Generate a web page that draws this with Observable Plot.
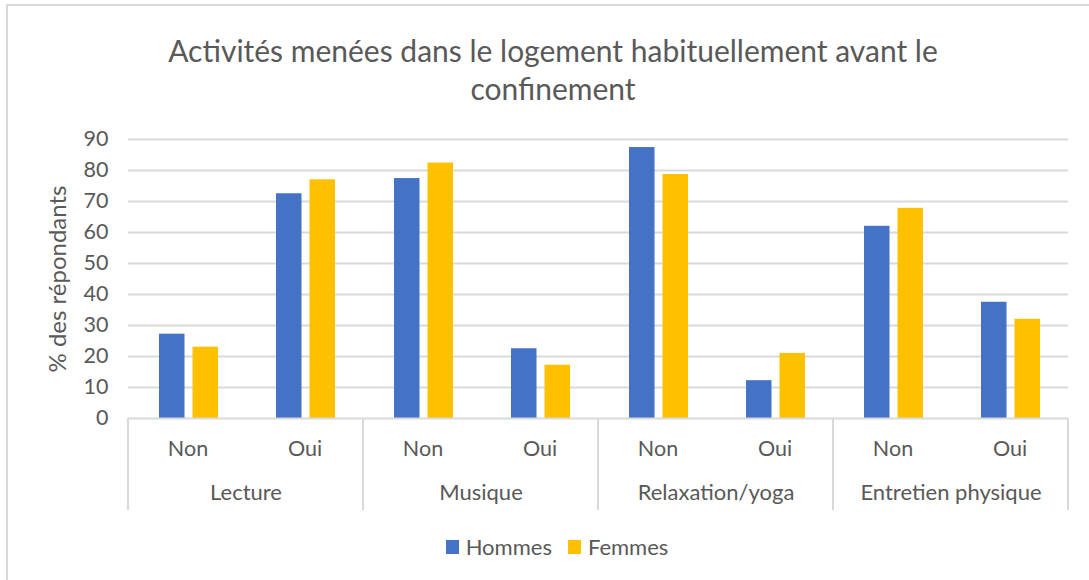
<!DOCTYPE html>
<html>
<head>
<meta charset="utf-8">
<script src="https://cdn.jsdelivr.net/npm/d3@7"></script>
<script src="https://cdn.jsdelivr.net/npm/@observablehq/plot@0.6"></script>
<style>
  body { margin: 0; background: #fff; }
  #wrap { position: relative; width: 1089px; height: 580px; overflow: hidden; font-family: Lato, "Open Sans", sans-serif; color: #595959; }
  #border { position: absolute; left: 6px; top: 4px; width: 1200px; height: 700px; border-left: 2px solid #d9d9d9; border-top: 2px solid #d9d9d9; }
  #title { position: absolute; top: 31px; left: 0; width: 1106px; text-align: center; font-size: 30px; line-height: 38px; }
  #chart { position: absolute; top: 120px; left: 0; }
  #legend { position: absolute; top: 533px; left: 0; width: 1114px; text-align: center; font-size: 22px; line-height: 26px; }
  #legend .item { display: inline-flex; align-items: center; margin: 0 8px; }
  #legend .sw { display: inline-block; width: 13px; height: 14px; margin-right: 7px; }
</style>
</head>
<body>
<div id="wrap">
  <div id="border"></div>
  <div id="title">Activités menées dans le logement habituellement avant le<br>confinement</div>
  <div id="chart"></div>
  <div id="legend"></div>
</div>
<script>
const activities = ["Lecture", "Musique", "Relaxation/yoga", "Entretien physique"];
const answers = ["Non", "Oui"];
const sexes = ["Hommes", "Femmes"];
const colors = ["#4472C4", "#FFC000"];
// values in order: activity x answer (Non, Oui)
const hommes = [27.2, 72.5, 77.4, 22.5, 87.4, 12.2, 62.0, 37.5];
const femmes = [23.0, 77.0, 82.4, 17.2, 78.7, 21.0, 67.8, 32.0];
const yTicks = [0, 10, 20, 30, 40, 50, 60, 70, 80, 90];
const yLabel = "% des répondants";

const rows = [];
activities.forEach((a, i) => {
  answers.forEach((r, j) => {
    rows.push({activity: a, answer: r, sex: sexes[0], value: hommes[i * 2 + j]});
    rows.push({activity: a, answer: r, sex: sexes[1], value: femmes[i * 2 + j]});
  });
});

const plot = Plot.plot({
  width: 1089,
  height: 400,
  marginTop: 19,
  marginBottom: 102,
  marginLeft: 128,
  marginRight: 21,
  style: {fontFamily: "Lato, 'Open Sans', sans-serif", fontSize: "21.5px", color: "#595959", background: "transparent"},
  fx: {domain: activities, padding: 0, label: null},
  x: {domain: answers, padding: 0, label: null},
  y: {domain: [0, 90], label: null},
  color: {domain: sexes, range: colors},
  marks: [
    Plot.ruleY(yTicks.filter(t => t > 0), {stroke: "#d9d9d9", strokeWidth: 2}),
    Plot.barY(rows.filter(d => d.sex === sexes[0]), {fx: "activity", x: "answer", y: "value", fill: "sex", insetLeft: 30, insetRight: 61.5}),
    Plot.barY(rows.filter(d => d.sex === sexes[1]), {fx: "activity", x: "answer", y: "value", fill: "sex", insetLeft: 63.5, insetRight: 28}),
    Plot.ruleY([0], {stroke: "#d9d9d9", strokeWidth: 2}),
    Plot.axisY({ticks: yTicks, tickSize: 0, tickPadding: 20, label: yLabel, labelAnchor: "center", labelArrow: "none", labelOffset: 80, fill: "#595959"}),
    Plot.axisX({anchor: "bottom", tickSize: 0, tickPadding: 22, label: null, fill: "#595959"}),
    Plot.axisFx({anchor: "bottom", tickSize: 0, tickPadding: 66, label: null, fill: "#595959", fontSize: 22})
  ]
});
document.getElementById("chart").appendChild(plot);

// larger y-axis title
d3.select(plot).selectAll('g[aria-label="y-axis label"] text').style("font-size", "24px");

// category separators below the axis, placed with the plot's own scales
const fx = plot.scale("fx");
const ys = plot.scale("y");
const y0 = ys.apply(0);
const edges = activities.map(a => fx.apply(a)).concat([fx.apply(activities[activities.length - 1]) + fx.bandwidth]);
d3.select(plot).append("g")
  .selectAll("line").data(edges).join("line")
  .attr("x1", d => d).attr("x2", d => d)
  .attr("y1", y0).attr("y2", y0 + 92)
  .attr("stroke", "#d9d9d9").attr("stroke-width", 2);

// legend
const legend = d3.select("#legend");
sexes.forEach((s, i) => {
  const it = legend.append("span").attr("class", "item");
  it.append("span").attr("class", "sw").style("background", colors[i]);
  it.append("span").text(s);
});
</script>
</body>
</html>
